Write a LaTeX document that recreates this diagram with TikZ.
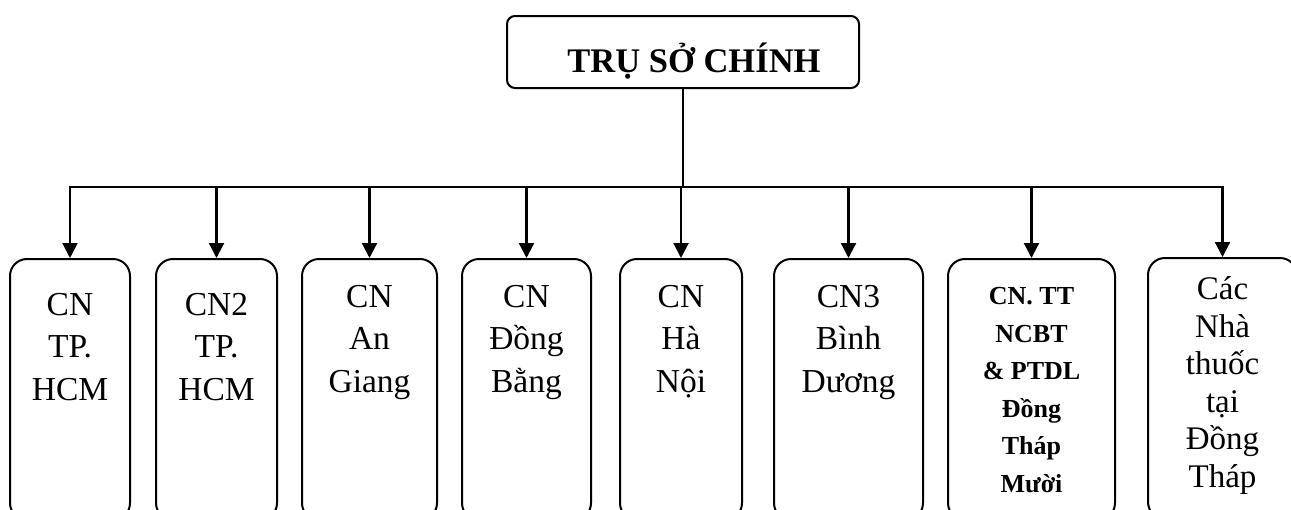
\documentclass[tikz,border=0pt]{standalone}
\usepackage{fontspec}
\setmainfont{Liberation Serif}
\usetikzlibrary{arrows.meta}
\begin{document}
\begin{tikzpicture}[x=1pt,y=-1pt,
  box/.style={draw, line width=2pt, rounded corners=17pt, inner sep=0pt, minimum height=261pt},
  topbox/.style={draw, line width=2pt, rounded corners=8pt, inner sep=0pt, minimum width=352pt, minimum height=72pt},
  conn/.style={line width=2.2pt},
  arr/.style={line width=2.2pt, -{Triangle[length=15pt,width=15pt]}},
  lbl/.style={anchor=base, align=center, inner sep=0pt, font=\fontsize{33.5}{42.5}\selectfont},
  lblbold/.style={anchor=base, align=center, inner sep=0pt, font=\fontsize{26}{37.5}\selectfont\bfseries},
  lbltight/.style={anchor=base, align=center, inner sep=0pt, font=\fontsize{33}{37.5}\selectfont},
  titlelbl/.style={anchor=base, inner sep=0pt, font=\fontsize{34.5}{40}\selectfont\bfseries}
]
\useasboundingbox (0,0) rectangle (1291,509);
\clip (0,0) rectangle (1291,509);

% head office
\node[topbox] (top) at (683,52) {};
\node[titlelbl] (toptext) at (694,72) {TRỤ SỞ CHÍNH};

% branches
\node[box, minimum width=120pt] (b1) at (70,389.5) {};
\node[box, minimum width=121pt] (b2) at (216.5,389.5) {};
\node[box, minimum width=135pt] (b3) at (369.5,389.5) {};
\node[box, minimum width=129pt] (b4) at (526.5,389.5) {};
\node[box, minimum width=122pt] (b5) at (681,389.5) {};
\node[box, minimum width=149pt] (b6) at (848.5,389.5) {};
\node[box, minimum width=167pt] (b7) at (1031.5,389.5) {};
\node[box, minimum width=149pt] (b8) at (1222.5,388.5) {};

\node[lbl] (t1) at (70,400) {CN\\TP.\\HCM};
\node[lbl] (t2) at (216.5,400) {CN2\\TP.\\HCM};
\node[lbl] (t3) at (369.5,392) {CN\\An\\Giang};
\node[lbl] (t4) at (526.5,392) {CN\\Đồng\\Bằng};
\node[lbl] (t5) at (681,392) {CN\\Hà\\Nội};
\node[lbl] (t6) at (848.5,392) {CN3\\Bình\\Dương};
\node[lblbold] (t7) at (1031.5,492) {CN. TT\\NCBT\\\& PTDL\\Đồng\\Tháp\\Mười};
\node[lbltight] (t8) at (1222.5,487) {Các\\Nhà\\thuốc\\tại\\Đồng\\Tháp};

% connectors
\coordinate (bus) at (683,187);
\draw[conn] (top.south) -- (top.south |- bus);
\draw[conn, line cap=rect] (b1.north |- bus) -- (b8.north |- bus);
\foreach \b in {b1,b2,b3,b4,b5,b6,b7,b8}
  \draw[arr] (\b.north |- bus) -- (\b.north);
\end{tikzpicture}
\end{document}
